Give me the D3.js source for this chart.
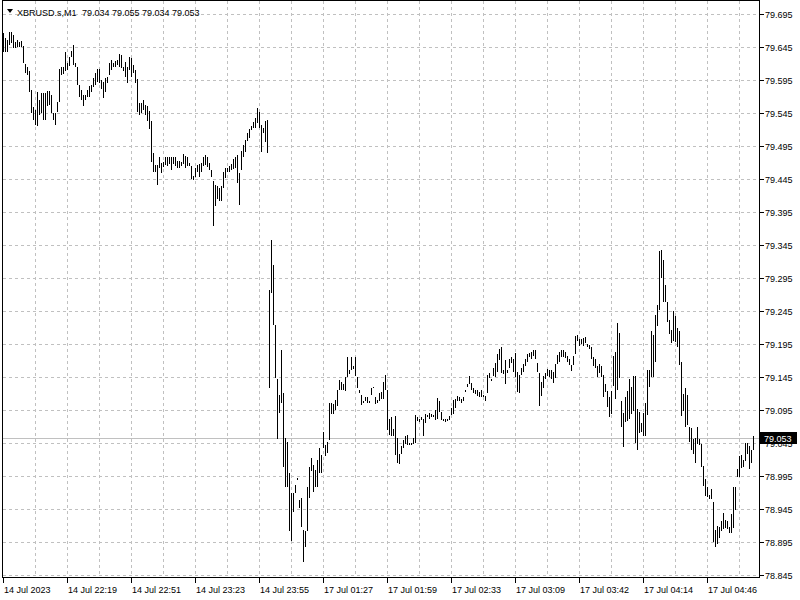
<!DOCTYPE html>
<html><head><meta charset="utf-8">
<script src="https://cdn.jsdelivr.net/npm/d3@7"></script>
<style>
html,body{margin:0;padding:0;background:#fff;}
svg{display:block;}
text{font-family:"Liberation Sans",Arial,sans-serif;font-size:9px;fill:#000;}
</style></head><body>
<svg id="c" width="800" height="600"></svg>
<script>
const symbolName = "XBRUSD.s,M1";
const lastQuote = [79.034, 79.055, 79.034, 79.053];
const priceTicks = [79.695,79.645,79.595,79.545,79.495,79.445,79.395,79.345,79.295,79.245,79.195,79.145,79.095,79.045,78.995,78.945,78.895,78.845];
const timeLabels = ["14 Jul 2023","14 Jul 22:19","14 Jul 22:51","14 Jul 23:23","14 Jul 23:55","17 Jul 01:27","17 Jul 01:59","17 Jul 02:33","17 Jul 03:09","17 Jul 03:42","17 Jul 04:14","17 Jul 04:46"];
const barHigh = [
79.666,79.658,79.656,79.668,79.667,79.663,79.653,79.655,79.653,79.654,
79.647,79.619,79.615,79.608,79.580,79.554,79.550,79.577,79.564,79.576,
79.576,79.576,79.579,79.579,79.572,79.545,79.545,79.562,79.611,79.614,
79.615,79.637,79.621,79.630,79.639,79.648,79.621,79.615,79.587,79.580,
79.572,79.572,79.580,79.586,79.587,79.598,79.605,79.611,79.611,79.595,
79.592,79.598,79.600,79.620,79.625,79.621,79.624,79.625,79.635,79.633,
79.615,79.623,79.615,79.630,79.628,79.618,79.610,79.596,79.560,79.560,
79.564,79.557,79.555,79.548,79.533,79.485,79.466,79.466,79.479,79.469,
79.470,79.478,79.478,79.479,79.478,79.478,79.479,79.473,79.473,79.471,
79.483,79.480,79.478,79.469,79.464,79.450,79.461,79.466,79.468,79.469,
79.478,79.481,79.478,79.469,79.459,79.442,79.436,79.434,79.431,79.434,
79.455,79.461,79.461,79.464,79.468,79.476,79.478,79.481,79.454,79.488,
79.496,79.504,79.514,79.520,79.525,79.531,79.538,79.552,79.547,79.527,
79.523,79.533,79.534,79.277,79.353,79.315,79.224,79.142,79.118,79.186,
79.120,79.052,79.047,78.999,78.969,78.969,78.981,78.992,78.959,78.961,
78.913,78.911,78.979,79.009,79.022,79.012,79.004,79.019,79.037,79.027,
79.062,79.042,79.047,79.106,79.106,79.104,79.110,79.126,79.140,79.138,
79.134,79.145,79.176,79.156,79.176,79.162,79.176,79.145,79.126,79.118,
79.108,79.115,79.115,79.109,79.128,79.130,79.115,79.110,79.120,79.123,
79.138,79.148,79.125,79.082,79.085,79.066,79.086,79.052,79.029,79.040,
79.050,79.055,79.057,79.045,79.045,79.052,79.087,79.084,79.082,79.085,
79.081,79.089,79.087,79.091,79.089,79.087,79.095,79.113,79.108,79.092,
79.082,79.081,79.082,79.086,79.098,79.110,79.111,79.116,79.114,79.111,
79.114,79.126,79.135,79.146,79.136,79.128,79.125,79.125,79.123,79.125,
79.118,79.116,79.148,79.151,79.142,79.158,79.166,79.180,79.188,79.190,
79.155,79.171,79.156,79.173,79.175,79.173,79.181,79.153,79.148,79.158,
79.165,79.172,79.180,79.181,79.183,79.186,79.186,79.166,79.151,79.138,
79.146,79.151,79.157,79.156,79.156,79.152,79.165,79.178,79.183,79.186,
79.186,79.183,79.177,79.173,79.163,79.177,79.207,79.209,79.202,79.202,
79.204,79.205,79.195,79.193,79.191,79.175,79.172,79.162,79.165,79.162,
79.148,79.134,79.124,79.114,79.124,79.177,79.183,79.227,79.212,79.108,
79.090,79.115,79.124,79.142,79.130,79.146,79.146,79.096,79.092,79.076,
79.090,79.105,79.156,79.156,79.215,79.209,79.239,79.254,79.336,79.338,
79.323,79.284,79.259,79.231,79.216,79.245,79.237,79.219,79.215,79.168,
79.119,79.128,79.118,79.069,79.067,79.051,79.052,79.069,79.051,79.044,
79.010,78.991,78.978,78.966,78.976,78.956,78.913,78.919,78.917,78.927,
78.939,78.929,78.927,78.917,78.937,78.978,78.978,79.005,79.025,79.027,
79.019,79.045,79.045,79.040,79.035,79.055];
const barLow = [
79.638,79.638,79.637,79.648,79.651,79.643,79.643,79.645,79.645,79.645,
79.621,79.605,79.603,79.577,79.545,79.535,79.527,79.525,79.542,79.545,
79.535,79.535,79.556,79.557,79.545,79.535,79.527,79.547,79.561,79.603,
79.604,79.608,79.610,79.616,79.630,79.618,79.615,79.587,79.570,79.565,
79.556,79.564,79.569,79.569,79.577,79.585,79.587,79.592,79.590,79.581,
79.567,79.577,79.590,79.603,79.610,79.615,79.615,79.618,79.615,79.613,
79.608,79.600,79.590,79.610,79.600,79.605,79.590,79.547,79.542,79.545,
79.550,79.542,79.533,79.520,79.471,79.455,79.455,79.436,79.461,79.454,
79.463,79.466,79.465,79.468,79.459,79.468,79.465,79.461,79.461,79.465,
79.468,79.461,79.465,79.464,79.445,79.444,79.448,79.456,79.448,79.456,
79.464,79.466,79.463,79.458,79.448,79.374,79.404,79.414,79.412,79.412,
79.432,79.447,79.456,79.456,79.459,79.460,79.461,79.439,79.406,79.458,
79.479,79.486,79.503,79.507,79.519,79.522,79.523,79.530,79.523,79.486,
79.514,79.501,79.484,79.129,79.272,79.224,79.143,79.051,79.090,79.106,
79.008,78.978,78.978,78.911,78.896,78.941,78.969,78.989,78.946,78.917,
78.865,78.887,78.911,78.961,79.003,78.971,78.979,78.979,78.999,79.000,
79.037,79.025,79.030,79.049,79.089,79.089,79.095,79.101,79.125,79.125,
79.126,79.124,79.145,79.150,79.156,79.157,79.147,79.128,79.120,79.103,
79.105,79.109,79.106,79.105,79.118,79.128,79.104,79.106,79.108,79.111,
79.111,79.125,79.064,79.057,79.055,79.055,79.027,79.015,79.013,79.029,
79.037,79.043,79.042,79.042,79.042,79.043,79.045,79.079,79.077,79.080,
79.056,79.075,79.084,79.082,79.084,79.084,79.080,79.082,79.092,79.080,
79.079,79.077,79.079,79.080,79.087,79.089,79.098,79.109,79.108,79.106,
79.109,79.123,79.130,79.134,79.126,79.121,79.119,79.116,79.115,79.115,
79.114,79.108,79.120,79.143,79.139,79.146,79.145,79.153,79.171,79.151,
79.150,79.135,79.151,79.158,79.166,79.153,79.145,79.123,79.121,79.148,
79.153,79.162,79.168,79.175,79.172,79.177,79.172,79.152,79.101,79.116,
79.128,79.142,79.146,79.145,79.142,79.136,79.143,79.165,79.168,79.175,
79.175,79.174,79.168,79.163,79.154,79.163,79.180,79.200,79.192,79.195,
79.192,79.196,79.190,79.188,79.173,79.161,79.158,79.145,79.151,79.145,
79.114,79.123,79.099,79.084,79.089,79.131,79.111,79.125,79.143,79.069,
79.039,79.077,79.079,79.082,79.089,79.094,79.045,79.035,79.060,79.061,
79.055,79.056,79.087,79.130,79.145,79.145,79.167,79.222,79.246,79.295,
79.259,79.259,79.229,79.210,79.196,79.200,79.198,79.191,79.163,79.086,
79.094,79.069,79.072,79.047,79.034,79.028,79.015,79.043,79.042,79.009,
78.980,78.965,78.963,78.960,78.960,78.895,78.887,78.892,78.901,78.912,
78.914,78.916,78.914,78.908,78.908,78.916,78.943,78.993,78.994,79.007,
79.008,79.017,79.029,79.005,79.014,79.034];

const N = barHigh.length;
const svg = d3.select("#c");
const L = 2, R = 759, T = 0, B = 577;
const x = d3.scaleLinear().domain([0, N - 1]).range([3, 3 + 2 * (N - 1)]);
const y = d3.scaleLinear().domain([78.845, 79.695]).range([575, 14]);
const grid = "#c0c0c0";

// horizontal grid
svg.append("g").selectAll("line").data(priceTicks).join("line")
  .attr("x1", L + 1).attr("x2", R)
  .attr("y1", d => Math.round(y(d)) + 0.5).attr("y2", d => Math.round(y(d)) + 0.5)
  .attr("stroke", grid).attr("stroke-dasharray", "3,3").attr("shape-rendering", "crispEdges");

// vertical grid every 16 bars
const vIdx = d3.range(16, N, 16);
svg.append("g").selectAll("line").data(vIdx).join("line")
  .attr("x1", d => Math.round(x(d)) + 0.5).attr("x2", d => Math.round(x(d)) + 0.5)
  .attr("y1", T + 1).attr("y2", B)
  .attr("stroke", grid).attr("stroke-dasharray", "3,3").attr("shape-rendering", "crispEdges");

// current price line
const last = lastQuote[3];
const yLast = Math.round(y(last)) + 0.5;
svg.append("line").attr("x1", L + 1).attr("x2", R).attr("y1", yLast).attr("y2", yLast)
  .attr("stroke", "#c0c0c0").attr("shape-rendering", "crispEdges");

// bars (high-low)
svg.append("g").selectAll("rect").data(d3.range(N)).join("rect")
  .attr("x", i => Math.round(x(i)))
  .attr("width", 1)
  .attr("y", i => Math.round(y(barHigh[i])))
  .attr("height", i => Math.max(1, Math.round(y(barLow[i])) - Math.round(y(barHigh[i]))))
  .attr("fill", "#000").attr("shape-rendering", "crispEdges");

// frame
svg.append("rect").attr("x", L + 0.5).attr("y", T + 0.5).attr("width", R - L).attr("height", B - T)
  .attr("fill", "none").attr("stroke", "#000").attr("shape-rendering", "crispEdges");

// price axis ticks & labels
const pa = svg.append("g");
pa.selectAll("line").data(priceTicks).join("line")
  .attr("x1", R + 1).attr("x2", R + 5)
  .attr("y1", d => Math.round(y(d)) + 0.5).attr("y2", d => Math.round(y(d)) + 0.5)
  .attr("stroke", "#000").attr("shape-rendering", "crispEdges");
pa.selectAll("text").data(priceTicks).join("text")
  .attr("x", 765).attr("y", d => Math.round(y(d)) + 3.5)
  .text(d => d.toFixed(3));

// time axis ticks & labels
const tIdx = timeLabels.map((d, k) => k * 32);
const ta = svg.append("g");
ta.selectAll("line").data(tIdx).join("line")
  .attr("x1", d => Math.round(x(d)) + 0.5).attr("x2", d => Math.round(x(d)) + 0.5)
  .attr("y1", B + 1).attr("y2", B + 6)
  .attr("stroke", "#000").attr("shape-rendering", "crispEdges");
ta.selectAll("text").data(tIdx).join("text")
  .attr("x", d => Math.round(x(d)) + 1).attr("y", 593)
  .text((d, k) => timeLabels[k]);

// current price box
svg.append("rect").attr("x", 760).attr("y", Math.round(y(last)) - 6).attr("width", 37).attr("height", 12).attr("fill", "#000");
svg.append("text").attr("x", 764).attr("y", Math.round(y(last)) + 3.5).style("fill", "#fff").text(last.toFixed(3));

// header
svg.append("path").attr("d", "M7,9 L13,9 L10,13 Z").attr("fill", "#000");
svg.append("text").attr("x", 17).attr("y", 15.5).text(symbolName);
svg.append("text").attr("x", 82).attr("y", 15.5).text(lastQuote.map(v => v.toFixed(3)).join(" "));
</script>
</body></html>
